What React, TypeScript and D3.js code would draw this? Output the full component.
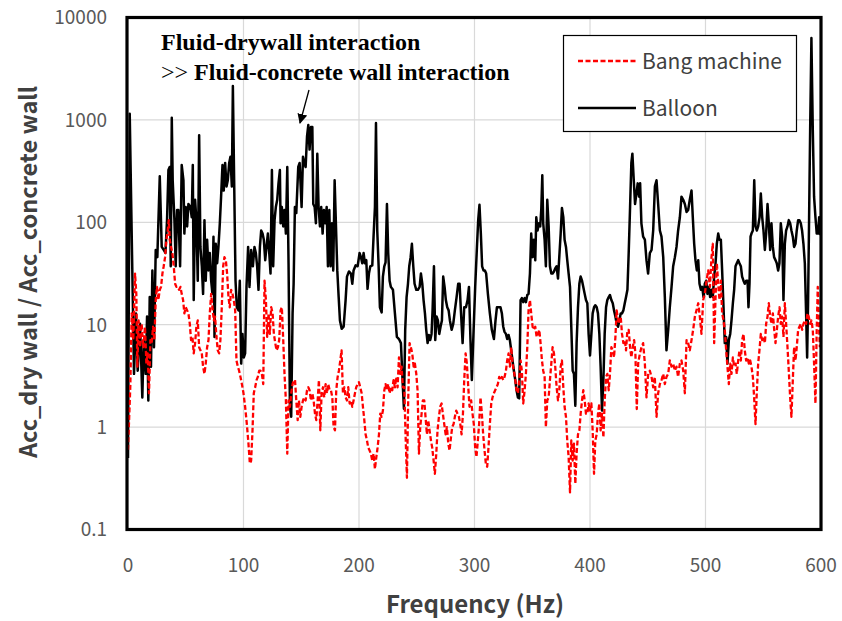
import React from "react";
import * as d3 from "d3";

// ---------- data (frequency Hz, ratio) ----------
const xTicks = [0, 100, 200, 300, 400, 500, 600];
const yTicks = [0.1, 1, 10, 100, 1000, 10000];
const yTickLabels = ["0.1", "1", "10", "100", "1000", "10000"];
const seriesNames = ["Bang machine", "Balloon"];
const annotationLines = ["Fluid-drywall interaction", "Fluid-concrete wall interaction"];

const balloon: [number, number][] = [
  [0, 0.5], [1.5, 1148], [5.2, 3.31], [6.9, 12.9], [8.4, 3.55], [10.4, 10.2], [12.4, 1.95], [13.6, 7.08],
  [15.3, 3.31], [16.5, 12.0], [17.6, 1.82], [18.8, 18.6], [19.9, 3.89], [21.1, 33.9], [22.5, 6.03], [24, 53.7],
  [25.4, 45.7], [27.5, 282], [29.2, 57.5], [31, 53.7], [32.4, 50.1], [33.8, 105], [35, 324], [36.1, 347],
  [37, 37.2], [37.9, 1047], [38.7, 257], [40.2, 105], [41.3, 37.2], [42.5, 132], [43.6, 132], [45.1, 37.2],
  [46.5, 363], [48, 257], [48.8, 77.6], [50, 141], [51.2, 91.2], [52.3, 151], [54, 141], [55.2, 112],
  [56.1, 363], [56.9, 17.4], [58.1, 166], [59.2, 105], [60.4, 26.9], [61.6, 708], [62.7, 57.5], [63.9, 37.2],
  [65, 20.0], [66.2, 105], [67.3, 26.9], [68.5, 67.6], [69.7, 33.9], [70.8, 50.1], [72, 26.9], [73.1, 20.0],
  [74, 72.4], [74.9, 7.59], [76, 61.7], [77.2, 39.8], [78.3, 57.5], [79.5, 97.7], [80.6, 178], [81.8, 363],
  [82.9, 204], [84.1, 380], [85.3, 224], [86.4, 257], [87.6, 380], [88.7, 437], [89.9, 224], [90.8, 2138],
  [91.9, 257], [93.1, 26.9], [94.2, 14.8], [95.7, 13.8], [96.8, 26.9], [98, 4.17], [99.1, 8.13], [100.3, 4.79],
  [101.4, 5.25], [102.6, 23.4], [104, 57.5], [105.2, 23.4], [106.6, 53.7], [108.1, 37.2], [109.5, 57.5], [110.7, 50.1],
  [111.8, 37.2], [113, 21.9], [114.2, 57.5], [115.3, 83.2], [116.5, 77.6], [117.6, 67.6], [118.8, 42.7], [119.9, 57.5],
  [121.1, 77.6], [122.3, 50.1], [123.4, 31.6], [124.6, 324], [125.7, 37.2], [126.9, 105], [128, 141], [129.2, 166],
  [130.3, 240], [131.5, 324], [132.1, 97.7], [133.2, 141], [134.4, 91.2], [135.5, 132], [136.7, 77.6], [137.9, 347],
  [139, 39.8], [140.2, 1.58], [141.3, 1.26], [142.5, 12.9], [143.4, 25.1], [144.5, 141], [145.7, 123], [147.4, 347],
  [148.6, 380], [150.3, 141], [151.5, 437], [152.6, 380], [153.8, 347], [155, 692], [156.1, 891], [157.2, 513],
  [158.4, 851], [159.6, 851], [160.4, 151], [161.6, 141], [162.7, 97.7], [163.9, 468], [165, 141], [166.2, 91.2],
  [167.3, 141], [168.5, 77.6], [169.6, 132], [170.8, 97.7], [172, 141], [173.1, 37.2], [174.3, 132], [175.4, 37.2],
  [176.6, 97.7], [177.7, 33.9], [178.9, 257], [180, 97.7], [181.2, 33.9], [182.4, 18.6], [183.5, 11.0], [185, 9.12],
  [186.7, 9.55], [188.4, 17.4], [189.6, 29.5], [191.3, 33.1], [193, 31.6], [194.2, 25.1], [195.3, 33.9], [197.1, 38.0],
  [198.8, 37.2], [200.5, 50.1], [201.7, 45.7], [202.8, 39.8], [204, 50.1], [205.1, 39.8], [206.3, 42.7], [207.4, 22.4],
  [208.6, 31.6], [209.8, 37.2], [211.5, 38.0], [212.6, 72.4], [213.8, 141], [214.7, 933], [215.8, 83.2], [217, 37.2],
  [218.1, 14.8], [219.6, 13.2], [220.7, 29.5], [221.9, 37.2], [223, 40.7], [224.2, 151], [225.3, 50.1], [226.5, 26.9],
  [227.6, 23.4], [229.4, 21.9], [231.1, 12.9], [232.8, 7.59], [234.6, 7.24], [236.3, 6.61], [237.7, 2.88], [238.9, 1.51],
  [240, 8.91], [241.2, 18.6], [242.4, 25.1], [243.5, 37.2], [244.7, 45.7], [245.8, 61.7], [247, 37.2], [248.1, 25.1],
  [249.6, 21.9], [251, 21.9], [252.5, 23.4], [253.6, 31.6], [254.8, 25.1], [255.9, 17.4], [257.1, 12.9], [258.2, 8.91],
  [259.4, 6.61], [260.5, 7.94], [261.7, 7.08], [262.8, 8.13], [263.7, 13.8], [264.9, 37.2], [266, 7.08], [267.2, 12.0],
  [268.3, 11.0], [269.5, 8.13], [270.6, 9.55], [271.8, 11.0], [272.9, 29.5], [274.1, 23.4], [275.2, 17.4], [276.4, 14.8],
  [277.6, 13.8], [278.7, 11.0], [280.2, 8.91], [281.6, 10.2], [283, 13.8], [284.5, 18.6], [285.9, 25.1], [287.1, 25.1],
  [288.2, 13.8], [289.7, 6.61], [291.1, 14.8], [292.6, 14.8], [294, 17.4], [295.2, 23.4], [296.5, 7.08], [297.7, 2.88],
  [299.1, 8.13], [300.6, 23.4], [302, 53.7], [303.2, 105], [304.3, 148], [305.5, 77.6], [306.6, 37.2], [307.8, 33.9],
  [309, 33.9], [310.1, 31.6], [311.6, 20.0], [313.3, 12.9], [315, 8.91], [316.8, 7.24], [318.2, 11.0], [319.4, 14.8],
  [320.8, 14.8], [322.5, 14.8], [323.7, 12.9], [324.9, 9.55], [326, 8.51], [327.2, 8.13], [328.3, 7.24], [329.5, 7.94],
  [330.6, 7.08], [331.8, 5.62], [332.9, 4.47], [334.1, 3.55], [335.3, 2.88], [336.4, 2.29], [337.6, 1.95], [338.7, 1.91],
  [339.9, 17.4], [341, 18.2], [342.2, 16.6], [343.4, 18.2], [344.5, 16.6], [345.7, 19.5], [346.8, 20.0], [348, 31.6],
  [349.1, 77.6], [350.3, 45.7], [351.4, 67.6], [352.6, 42.7], [353.5, 112], [354.6, 83.2], [355.8, 97.7], [356.9, 91.2],
  [357.8, 132], [358.7, 288], [359.5, 97.7], [360.7, 67.6], [361.8, 37.2], [363, 166], [364.2, 91.2], [365.3, 37.2],
  [366.5, 31.6], [367.6, 31.6], [368.8, 33.1], [369.9, 35.5], [371.1, 37.2], [372.3, 28.2], [373.4, 45.7], [374.6, 77.6],
  [375.7, 138], [376.9, 112], [378, 67.6], [379.2, 57.5], [380.3, 42.7], [381.5, 31.6], [382.7, 23.4], [383.8, 9.55],
  [385, 3.55], [386.1, 3.31], [387.3, 1.62], [388.4, 6.61], [389.6, 14.8], [390.8, 25.1], [391.9, 29.5], [393.1, 26.9],
  [394.2, 23.4], [395.4, 20.0], [396.5, 17.4], [397.7, 16.2], [398.8, 8.13], [400, 5.01], [401.2, 8.13], [402.3, 12.9],
  [403.5, 14.8], [404.6, 15.5], [405.8, 14.8], [406.9, 12.9], [408.1, 8.13], [409.2, 3.89], [410.4, 1.45], [411.6, 2.88],
  [412.7, 8.13], [413.9, 14.8], [415, 17.4], [416.2, 18.6], [417.3, 19.5], [418.5, 17.4], [419.7, 16.2], [420.8, 13.8],
  [422, 12.0], [423.1, 10.2], [424.3, 9.55], [425.4, 11.0], [426.6, 12.9], [427.7, 12.9], [428.9, 13.8], [430.1, 16.2],
  [431.2, 18.6], [432.4, 21.9], [433.5, 50.1], [434.7, 141], [435.8, 380], [436.7, 468], [437.9, 257], [439, 151],
  [440.2, 191], [441.3, 240], [442.5, 178], [443.4, 240], [444.5, 97.7], [446, 72.4], [447.5, 67.6], [448.9, 42.7],
  [450.3, 31.6], [451.8, 50.1], [453.3, 53.7], [454.7, 83.2], [456.2, 224], [457.6, 257], [459, 151], [460.5, 83.2],
  [461.9, 72.4], [463.4, 45.7], [464.8, 18.6], [466.2, 5.62], [467.7, 8.91], [469.1, 14.8], [470.6, 23.4], [472, 37.2],
  [473.5, 45.7], [474.9, 57.5], [476.3, 83.2], [477.8, 112], [479.2, 178], [480.7, 166], [482.1, 151], [483.6, 126],
  [485, 132], [486.4, 166], [487.9, 204], [489, 112], [490.2, 61.7], [491.3, 42.7], [492.5, 33.9], [493.7, 42.7],
  [494.8, 25.1], [496, 21.9], [497.1, 23.4], [498.3, 18.6], [499.4, 25.1], [500.6, 26.9], [501.7, 20.0], [502.9, 23.4],
  [504, 18.6], [505.2, 21.9], [506.3, 18.6], [507.5, 29.5], [508.7, 39.8], [509.8, 61.7], [511, 77.6], [512.1, 67.6],
  [513.3, 67.6], [514.4, 33.9], [515.6, 14.8], [516.7, 6.61], [517.9, 7.59], [519, 4.17], [520.2, 7.08], [521.4, 8.13],
  [522.5, 11.0], [523.7, 16.2], [524.8, 21.9], [526, 37.2], [527.1, 39.8], [528.3, 42.7], [529.4, 39.8], [530.6, 37.2],
  [531.7, 29.5], [532.9, 26.9], [534, 25.1], [535.2, 26.9], [536.4, 26.9], [537.2, 14.8], [538.1, 25.1], [539, 72.4],
  [539.8, 77.6], [541, 83.2], [542.2, 257], [543.3, 91.2], [544.5, 83.2], [545.6, 91.2], [546.8, 112], [547.9, 191],
  [549.1, 112], [550.2, 83.2], [551.4, 53.7], [552.5, 77.6], [553.7, 151], [554.8, 97.7], [556, 53.7], [557.1, 97.7],
  [558.3, 57.5], [559.4, 45.7], [560.6, 42.7], [561.7, 39.8], [562.9, 33.9], [564, 39.8], [565.2, 97.7], [566.4, 72.4],
  [567.5, 17.4], [568.7, 61.7], [569.8, 83.2], [571, 91.2], [572.1, 105], [573.3, 97.7], [574.4, 83.2], [575.6, 72.4],
  [576.7, 57.5], [577.9, 61.7], [579, 83.2], [580.2, 105], [581.3, 105], [582.5, 97.7], [583.6, 83.2], [584.8, 61.7],
  [586, 39.8], [587.1, 12.9], [588, 4.79], [588.8, 16.2], [589.7, 112], [590.6, 794], [591.7, 6310], [592.9, 794],
  [594, 178], [595.2, 112], [596.3, 77.6], [597.5, 77.6], [598.4, 112], [599.5, 75],
];

const bang: [number, number][] = [
  [0, 0.6], [2, 2.5], [3.2, 12.9], [4.6, 7.08], [6.1, 31.6], [7.2, 20.0], [8.1, 3.89], [9.2, 11.0],
  [10.4, 6.03], [11.8, 10.2], [13.3, 6.03], [14.7, 9.55], [15.9, 4.17], [17, 5.25], [18.2, 2.14], [19.4, 7.08],
  [20.5, 6.61], [21.7, 9.55], [22.8, 7.08], [24, 17.4], [25.1, 23.4], [26.3, 17.4], [27.5, 21.9], [28.6, 23.4],
  [29.8, 31.6], [30.9, 37.2], [32.1, 45.7], [33.2, 67.6], [34.4, 83.2], [35.3, 105], [36.1, 67.6], [37.3, 57.5],
  [38.4, 50.1], [39.6, 37.2], [40.8, 25.1], [41.9, 23.4], [43.1, 23.4], [44.2, 21.9], [45.4, 23.4], [46.5, 20.0],
  [47.7, 17.4], [48.8, 12.9], [50, 14.8], [51.2, 13.8], [52.3, 12.9], [53.5, 10.2], [54.6, 7.08], [55.8, 7.59],
  [56.9, 5.25], [58.1, 6.61], [59.2, 9.55], [60.4, 11.0], [61.6, 6.03], [62.7, 5.62], [63.9, 5.25], [65, 3.89],
  [66.2, 3.31], [67.3, 4.17], [68.5, 6.03], [69.7, 7.08], [70.8, 12.9], [72, 20.0], [73.1, 14.8], [74.3, 11.0],
  [75.4, 12.0], [76.6, 7.59], [77.7, 5.62], [78.9, 5.25], [80, 7.08], [81.2, 14.8], [82.4, 37.2], [83.5, 45.7],
  [84.7, 42.7], [85.8, 31.6], [87, 18.6], [88.1, 14.8], [89.3, 21.9], [90.5, 20.0], [91.6, 17.4], [92.8, 13.8],
  [93.9, 4.47], [95.1, 3.89], [96.2, 3.55], [97.4, 3.09], [98.6, 2.63], [100, 2.14], [101.4, 1.58], [102.9, 1.07],
  [104.3, 0.69], [105.5, 0.44], [106.6, 0.47], [107.8, 0.93], [108.9, 2.14], [110.1, 2.45], [111.3, 2.88], [112.4, 3.09],
  [113.6, 3.55], [114.7, 3.55], [115.9, 3.31], [117.1, 2.63], [118.2, 26.9], [119.4, 17.4], [120.5, 7.59], [121.7, 12.9],
  [122.8, 8.13], [124, 14.8], [125.2, 12.9], [126.3, 8.13], [127.5, 6.61], [128.6, 5.62], [129.8, 6.03], [130.9, 7.08],
  [132.1, 13.8], [133.2, 14.8], [134.4, 7.08], [135.5, 3.31], [136.7, 1.82], [137.9, 0.55], [139, 1.82], [140.2, 1.58],
  [141.3, 2.14], [142.5, 2.63], [143.6, 2.88], [144.6, 2.88], [145.7, 1.82], [146.9, 1.17], [148, 1.82], [149.2, 1.26],
  [150.3, 1.58], [151.5, 1.82], [152.6, 1.95], [153.8, 1.82], [155, 2.29], [156.1, 2.45], [157.2, 2.29], [158.4, 1.82],
  [159.6, 2.14], [160.7, 1.82], [161.9, 1.35], [163, 1.17], [164.2, 1.82], [165.3, 2.88], [166.5, 0.93], [167.6, 2.14],
  [168.8, 2.45], [169.9, 1.95], [171.1, 2.63], [172.2, 2.14], [173.4, 2.63], [174.6, 2.29], [175.7, 2.29], [176.9, 1.95],
  [178, 1.00], [179.2, 0.93], [180.3, 2.29], [181.5, 3.09], [182.6, 3.55], [183.8, 4.47], [184.9, 5.62], [186.1, 2.14],
  [187.3, 2.45], [188.4, 1.95], [189.6, 1.82], [190.7, 2.45], [191.9, 1.70], [193, 1.82], [194.2, 1.58], [195.3, 1.82],
  [196.5, 2.14], [197.6, 2.45], [198.8, 2.63], [199.9, 2.75], [201.1, 2.45], [202.3, 2.14], [203.4, 1.58], [204.6, 1.17],
  [205.7, 0.85], [206.9, 0.74], [208, 0.63], [209.2, 0.59], [210.3, 0.55], [211.5, 0.47], [212.6, 0.55], [213.8, 0.39],
  [215, 0.51], [216.1, 0.63], [217.3, 0.85], [218.4, 1.35], [219.6, 1.26], [220.7, 1.45], [221.9, 2.29], [223, 2.63],
  [224.2, 2.29], [225.3, 2.63], [226.5, 2.14], [227.6, 2.45], [228.8, 2.29], [229.9, 2.88], [231.1, 2.45], [232.3, 3.09],
  [233.4, 2.45], [234.6, 4.79], [235.7, 3.31], [236.9, 3.89], [238, 2.45], [239.2, 2.45], [240.3, 0.85], [241.5, 0.32],
  [242.6, 1.82], [243.8, 6.61], [244.9, 6.03], [246.1, 5.25], [247.3, 3.89], [248.4, 4.17], [249.6, 3.31], [250.7, 2.29],
  [251.9, 0.55], [253, 1.00], [254.2, 1.35], [255.3, 1.82], [256.5, 1.82], [257.6, 1.26], [258.8, 0.85], [259.9, 1.17],
  [261.1, 0.93], [262.3, 0.74], [263.4, 0.63], [264.6, 0.47], [265.7, 0.35], [266.9, 0.55], [268, 0.93], [269.2, 1.26],
  [270.3, 1.58], [271.5, 1.70], [272.6, 1.35], [273.8, 1.07], [275, 0.85], [276.1, 1.00], [277.3, 0.69], [278.4, 0.59],
  [279.6, 0.79], [280.7, 1.00], [281.9, 1.07], [283, 1.26], [284.2, 1.45], [285.3, 1.35], [286.5, 1.26], [287.7, 1.07],
  [288.8, 0.85], [290, 1.35], [291.1, 2.88], [292.3, 5.25], [293.4, 4.17], [294.6, 2.45], [295.7, 1.58], [297.1, 1.82],
  [298.3, 1.35], [299.4, 1.07], [300.6, 0.63], [301.7, 0.51], [302.9, 0.74], [304, 1.07], [305.2, 1.95], [306.4, 1.35],
  [307.5, 0.85], [308.7, 0.59], [309.8, 0.44], [311, 0.41], [312.1, 0.63], [313.3, 1.07], [314.5, 1.70], [315.6, 1.95],
  [316.8, 2.14], [317.9, 2.29], [319.1, 2.45], [320.2, 2.63], [321.4, 3.09], [322.5, 2.88], [323.7, 3.09], [324.9, 2.88],
  [326, 3.09], [327.2, 3.55], [328.3, 4.47], [329.5, 5.25], [330.6, 3.89], [331.8, 6.03], [332.9, 4.17], [334.1, 3.55],
  [335.3, 2.88], [336.4, 2.29], [337.6, 2.14], [338.7, 2.88], [339.9, 4.47], [341, 3.55], [342.2, 1.70], [343.4, 2.29],
  [344.5, 3.31], [345.7, 6.03], [346.8, 13.8], [348, 17.4], [349.1, 12.9], [350.3, 9.55], [351.4, 8.91], [352.6, 9.55],
  [353.8, 7.59], [354.9, 8.13], [356.1, 8.91], [357.2, 6.61], [358.4, 4.47], [359.5, 3.55], [360.7, 3.09], [361.8, 1.00],
  [363, 1.82], [364.2, 1.95], [365.3, 2.88], [366.5, 4.17], [367.6, 6.03], [368.8, 5.25], [369.9, 3.89], [371.1, 2.45],
  [372.3, 1.82], [373.4, 2.29], [374.6, 3.89], [375.7, 4.47], [376.9, 2.45], [378, 1.58], [379.2, 1.26], [380.3, 0.74],
  [381.5, 0.51], [382.7, 0.23], [383.8, 0.74], [385, 0.47], [386.1, 0.69], [387.3, 0.28], [388.4, 0.55], [389.6, 0.85],
  [390.8, 0.93], [391.9, 1.35], [393.1, 1.82], [394.2, 2.29], [395.4, 1.82], [396.5, 1.35], [397.7, 1.35], [398.8, 1.70],
  [400, 1.45], [401.2, 1.70], [402.3, 0.93], [403.5, 0.35], [404.6, 0.74], [405.8, 0.85], [406.9, 1.35], [408.1, 1.70],
  [409.2, 0.93], [410.4, 1.35], [411.6, 0.79], [412.7, 1.82], [413.9, 3.09], [415, 3.31], [416.2, 2.29], [417.3, 3.31],
  [418.5, 6.03], [419.7, 5.62], [420.8, 4.79], [422, 7.59], [423.1, 13.8], [424.3, 11.0], [425.4, 10.2], [426.6, 12.0],
  [427.7, 8.13], [428.9, 6.61], [430.1, 7.08], [431.2, 5.62], [432.4, 8.91], [433.5, 8.91], [434.7, 6.03], [435.8, 4.79],
  [437, 6.03], [438.2, 7.08], [439.3, 5.25], [440.5, 1.5], [441.7, 4.17], [443.2, 5.25], [444.6, 6.03], [446, 6.61],
  [447.5, 4.17], [448.9, 1.95], [450.4, 3.31], [451.8, 3.55], [453.3, 3.09], [454.7, 2.45], [456.1, 3.09], [457.6, 1.26],
  [459, 2.14], [460.5, 2.63], [461.9, 2.88], [463.4, 3.31], [464.8, 2.63], [466.2, 3.09], [467.7, 3.31], [469.1, 4.47],
  [470.6, 3.89], [472, 4.17], [473.5, 3.55], [474.9, 3.89], [476.3, 3.09], [477.8, 4.17], [479.2, 4.47], [480.7, 3.55],
  [482.1, 2.14], [483.6, 7.08], [485, 6.61], [486.4, 5.62], [487.9, 7.08], [489.3, 8.91], [490.8, 12.0], [492.2, 13.8],
  [493.7, 16.2], [495.1, 12.0], [496.5, 8.13], [498, 17.4], [499.4, 20.0], [500.9, 26.9], [502.3, 33.9], [503.8, 23.4],
  [505.2, 45.7], [506.3, 61.7], [507.5, 6.61], [508.7, 18.6], [509.8, 39.8], [511, 25.1], [512.1, 17.4], [513.3, 26.9],
  [514.4, 12.9], [515.6, 11.0], [516.7, 8.91], [517.9, 5.62], [519, 3.89], [520.2, 2.63], [521.4, 4.17], [522.5, 3.31],
  [523.7, 4.79], [524.8, 3.89], [526, 4.17], [527.1, 3.31], [528.3, 4.47], [529.4, 5.62], [530.6, 4.47], [531.7, 7.08],
  [532.9, 8.13], [534, 5.62], [535.2, 4.47], [536.4, 4.79], [537.5, 4.17], [538.7, 4.47], [539.8, 3.89], [541, 3.09],
  [542.1, 1.95], [543.3, 1.07], [544.5, 2.29], [545.6, 4.17], [546.7, 5.62], [547.9, 8.13], [549, 7.08], [550.2, 7.59],
  [551.4, 6.61], [552.5, 10.2], [553.7, 12.0], [554.8, 16.2], [556, 12.0], [557.1, 10.2], [558.3, 12.9], [559.5, 8.91],
  [560.6, 6.61], [561.8, 8.91], [562.9, 12.0], [564.1, 14.8], [565.2, 10.2], [566.4, 12.0], [567.5, 7.59], [568.7, 16.2],
  [569.8, 10.2], [571, 6.03], [572.1, 3.55], [573.3, 1.95], [574.4, 1.26], [575.6, 2.88], [576.7, 6.03], [577.9, 4.47],
  [579, 6.03], [580.2, 8.91], [581.3, 9.55], [582.5, 10.2], [583.7, 8.91], [584.8, 10.2], [586, 11.0], [587.1, 10.2],
  [588.3, 12.9], [589.4, 12.0], [590.6, 10.2], [591.7, 11.0], [592.9, 8.91], [594, 4.17], [595.2, 1.70], [596.3, 8.91],
  [597.2, 23.4], [598.1, 11.0], [599, 6.03],
];

// ---------- layout ----------
const W = 842;
const H = 621;
const PL = 127, PR = 821, PT = 17.5, PB = 529.5;

export default function App() {
  const x = d3.scaleLinear().domain([0, 600]).range([128, 821]);
  const y = d3.scaleLog().domain([0.1, 10000]).range([PB, PT]);
  const line = d3
    .line<[number, number]>()
    .x((d) => x(d[0]))
    .y((d) => y(d[1]));

  const tickFont = "'Noto Sans CJK KR', 'Noto Sans', sans-serif";
  const gray = "#595959";

  return (
    <svg
      width={W}
      height={H}
      viewBox={`0 0 ${W} ${H}`}
      style={{ position: "absolute", left: 0, top: 0, background: "#fff" }}
    >
      <defs>
        <clipPath id="plotClip">
          <rect x={PL} y={PT} width={PR - PL} height={PB - PT} />
        </clipPath>
        <marker id="arrowHead" viewBox="0 0 10 10" refX="9" refY="5" markerWidth="10" markerHeight="10" orient="auto-start-reverse" markerUnits="userSpaceOnUse">
          <path d="M0,0 L10,5 L0,10 z" fill="#000" />
        </marker>
      </defs>
      <rect x={0} y={0} width={W} height={H} fill="#fff" />

      {/* grid */}
      <g stroke="#d9d9d9" strokeWidth={1.2}>
        {xTicks.slice(1, -1).map((t) => (
          <line key={"gx" + t} x1={x(t)} x2={x(t)} y1={PT} y2={PB} />
        ))}
        {yTicks.slice(1, -1).map((t) => (
          <line key={"gy" + t} x1={PL} x2={PR} y1={y(t)} y2={y(t)} />
        ))}
      </g>

      {/* series */}
      <g clipPath="url(#plotClip)" fill="none" strokeLinejoin="round">
        <path d={line(balloon) || ""} stroke="#000" strokeWidth={2.5} />
        <path d={line(bang) || ""} stroke="#ff0000" strokeWidth={2.3} strokeDasharray="5,2.5" />
      </g>

      {/* frame */}
      <rect x={PL} y={PT} width={PR - PL} height={PB - PT} fill="none" stroke="#000" strokeWidth={3.2} />

      {/* y tick labels */}
      <g fontFamily={tickFont} fontSize={19} fill={gray} textAnchor="end">
        {yTicks.map((t, i) => (
          <text key={"yt" + t} x={107} y={y(t)} dy="0.36em">
            {yTickLabels[i]}
          </text>
        ))}
      </g>
      {/* x tick labels */}
      <g fontFamily={tickFont} fontSize={19} fill={gray} textAnchor="middle">
        {xTicks.map((t) => (
          <text key={"xt" + t} x={x(t)} y={572}>
            {t}
          </text>
        ))}
      </g>

      {/* axis titles */}
      <text x={475} y={613} textAnchor="middle" fontFamily={tickFont} fontWeight="bold" fontSize={24} fill="#404040">
        Frequency (Hz)
      </text>
      <text
        transform="translate(37,272) rotate(-90)"
        textAnchor="middle"
        fontFamily={tickFont}
        fontWeight="bold"
        fontSize={23.5}
        fill="#404040"
      >
        Acc_dry wall / Acc_concrete wall
      </text>

      {/* annotation */}
      <g fontFamily="'Liberation Serif', 'Times New Roman', serif" fontSize={24} fill="#000">
        <text x={161} y={50} fontWeight="bold">{annotationLines[0]}</text>
        <text x={161} y={80}>
          <tspan>{">>"}</tspan>
          <tspan fontWeight="bold">{" " + annotationLines[1]}</tspan>
        </text>
      </g>
      <line x1={309} y1={90} x2={300} y2={123} stroke="#000" strokeWidth={1.3} markerEnd="url(#arrowHead)" />

      {/* legend */}
      <rect x={563.5} y={35.5} width={233} height={96} fill="#fff" stroke="#000" strokeWidth={1.2} />
      <line x1={578} x2={636} y1={61} y2={61} stroke="#ff0000" strokeWidth={2.3} strokeDasharray="5,2.5" />
      <line x1={578} x2={636} y1={108} y2={108} stroke="#000" strokeWidth={2.5} />
      <g fontFamily={tickFont} fontSize={21} fill="#404040">
        <text x={642} y={61} dy="0.36em">{seriesNames[0]}</text>
        <text x={642} y={108} dy="0.36em">{seriesNames[1]}</text>
      </g>
    </svg>
  );
}
